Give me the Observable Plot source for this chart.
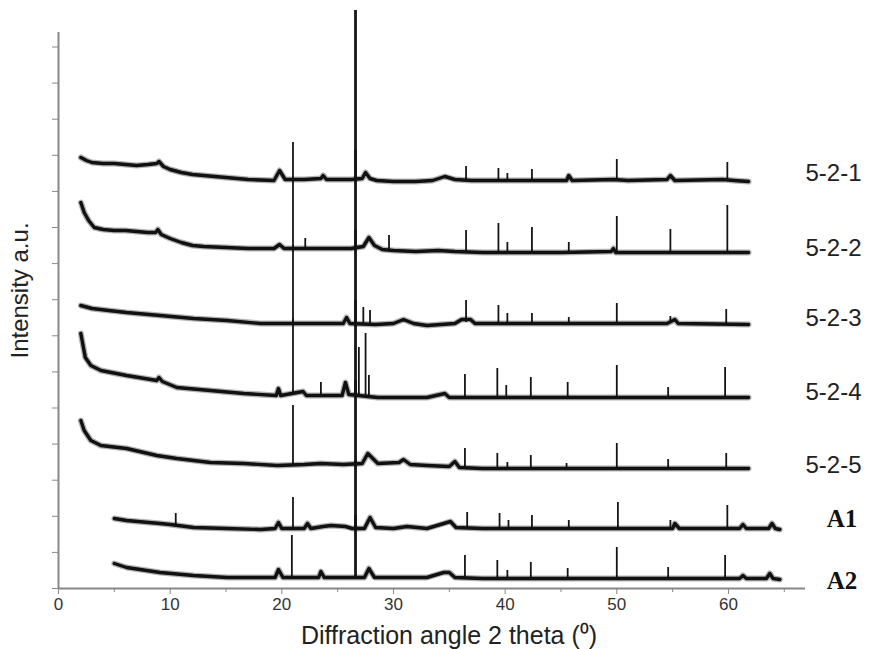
<!DOCTYPE html>
<html><head><meta charset="utf-8">
<script src="https://cdn.jsdelivr.net/npm/d3@7"></script>
<script src="https://cdn.jsdelivr.net/npm/@observablehq/plot@0.6"></script>
<style>body{margin:0;background:#fff}</style>
</head><body><div id="chart"></div>
<script>
// X-ray diffraction patterns (intensity in arbitrary units, stacked)
const xMajorTicks = [0, 10, 20, 30, 40, 50, 60];
const xMinorTicks = [5, 15, 25, 35, 45, 55, 65];
const yTickStep = 36.1;
const yTicks = d3.range(0, 556, yTickStep);

const seriesNames = ["5-2-1", "5-2-2", "5-2-3", "5-2-4", "5-2-5", "A1", "A2"];

// baseline traces [2theta, intensity]
const base521 = [[2.0,431],[2.5,428],[3,426],[4,425],[5,425],[6,424],[7,423],[8,424],[8.8,425],[9.0,427],[9.4,422],[10,419],[11,416],[12,414],[13,413],[15,411],[17,409],[19.3,408],[19.8,418],[20.3,409],[22,409],[23.5,410],[23.7,413],[24,409],[26.2,409],[27.2,410],[27.5,416],[27.9,410],[28.5,408],[30,407],[32,407],[33.5,408],[34.6,412],[35.5,409],[37,408],[41,408],[44,408],[45.5,408],[45.7,413],[46,408],[49.7,409],[51,408],[54.5,409],[54.8,413],[55.2,408],[59.5,409],[60.5,408],[61.8,407]];
const base522 = [[2.0,386],[2.3,376],[2.7,368],[3.2,361],[4,359],[5,358],[6,358],[7,357],[8,356],[8.7,356],[8.9,359],[9.2,354],[10,350],[11,346],[12,343],[13,342],[15,341],[17,340],[19.3,340],[19.8,344],[20.2,340],[23.5,340],[26.2,340],[27.3,342],[27.8,351],[28.3,343],[29,339],[30,338],[32,337],[34,338],[35.5,337],[38,336],[45,336],[49.5,337],[49.7,340],[49.9,336],[55,336],[61.8,336]];
const base523 = [[2.0,283],[3,280],[4.5,278],[6.1,276],[9.1,273],[12.1,270],[15.1,268],[18.1,265],[20,265],[22,265],[25.5,265],[25.8,271],[26.1,265],[28.4,264],[30,265],[30.9,269],[31.8,265],[33,263],[35.5,265],[36.1,269],[36.9,269],[37.3,265],[38,265],[45,265],[54.5,265],[55.2,269],[55.5,265],[61.8,264]];
const base524 = [[2.0,255],[2.4,231],[2.9,223],[3.8,218],[6.1,213],[8.8,208],[9.0,211],[9.3,207],[10.6,201],[13.6,198],[16.6,195],[19.5,193],[19.7,200],[19.9,193],[21.9,197],[22.2,193],[25.4,193],[25.7,206],[26.0,194],[28.6,191],[33,191],[34.6,195],[35,191],[40,191],[61.8,191]];
const base525 = [[2.0,168],[2.3,158],[2.9,148],[3.8,143],[6.1,140],[8.8,133],[10.6,130],[13.6,126],[16.6,125],[19.6,123],[22,124],[23.5,125],[25.5,124],[27.2,125],[27.7,135],[28.6,125],[30.5,126],[30.9,129],[31.5,124],[33,123],[35,122],[35.5,127],[35.9,121],[38,120],[45,120],[61.8,120]];
const baseA1 = [[5.0,70],[6.1,68],[9.1,65],[10,64],[12.1,61],[15.1,60],[18.1,59],[19.4,60],[19.7,66],[20.0,60],[22,60],[22.3,65],[22.6,60],[23.7,62],[24.4,63],[25.7,62],[26.3,60],[27.4,60],[27.9,71],[28.4,61],[30,60],[31.2,62],[33,60],[34.5,65],[35.1,67],[35.6,61],[38,60],[55,60],[55.2,65],[55.6,60],[61,60],[61.3,64],[61.6,60],[63.6,60],[63.9,65],[64.2,60],[64.6,59]];
const baseA2 = [[5.0,25],[6.1,21],[9.1,16],[12.1,13],[15.1,11],[18.1,11],[19.4,11],[19.7,19],[20.1,11],[23.3,11],[23.5,17],[23.8,11],[26.2,11],[27.4,11],[27.8,20],[28.3,11],[30,11],[33,11],[34.5,16],[35.0,16],[35.5,11],[38,10],[61,10],[61.3,13],[61.6,10],[63.4,10],[63.7,15],[64.0,10],[64.6,9]];

// sharp reflections [2theta, foot intensity, top intensity]
const peaks521 = [[21.0,408,446],[26.6,409,578],[36.5,408,422],[39.4,408,420],[40.2,408,415],[42.4,408,419],[50.0,408,429],[59.9,408,426]];
const peaks522 = [[21.0,340,410],[22.1,340,350],[26.6,340,438],[29.6,339,353],[36.5,336,358],[39.4,336,365],[40.2,336,346],[42.4,336,361],[45.7,336,346],[50.0,336,372],[54.8,336,359],[59.9,336,383]];
const peaks523 = [[21.0,265,343],[26.6,265,358],[27.3,265,281],[27.9,265,278],[36.5,266,288],[39.4,265,283],[40.2,265,275],[42.4,265,275],[45.7,265,271],[50.0,265,285],[54.8,265,272],[59.8,265,279]];
const peaks524 = [[21.0,193,270],[23.5,193,206],[26.6,193,288],[26.9,193,241],[27.5,193,255],[27.8,193,213],[36.4,191,214],[39.3,191,220],[40.1,191,203],[42.3,191,211],[45.6,191,206],[50.0,191,223],[54.6,191,201],[59.7,191,221]];
const peaks525 = [[21.0,123,183],[26.6,124,208],[36.4,121,140],[39.3,120,135],[40.2,120,126],[42.3,120,133],[45.5,120,125],[50.0,120,145],[54.6,120,129],[59.8,120,135]];
const peaksA1 = [[10.5,64,75],[21.0,60,91],[26.6,60,128],[36.6,60,76],[39.5,60,75],[40.3,60,68],[42.4,60,73],[45.7,60,68],[50.1,60,86],[54.8,60,68],[59.9,60,83]];
const peaksA2 = [[20.9,11,53],[26.6,11,73],[36.4,10,33],[39.3,10,28],[40.2,10,18],[42.3,10,26],[45.6,10,20],[50.0,10,41],[54.6,10,21],[59.7,10,33]];

// label positions
const labelX = [66.9, 66.9, 66.9, 66.9, 66.9, 68.8, 68.8];
const labelY = [415, 340, 270, 196, 123, 70, 8];

const bases = [base521, base522, base523, base524, base525, baseA1, baseA2];
const peaks = [peaks521, peaks522, peaks523, peaks524, peaks525, peaksA1, peaksA2];

const lineData = bases.flatMap((b, i) => b.map(([x, y]) => ({name: seriesNames[i], x, y})));
const peakData = peaks.flatMap((p, i) => p.map(([x, y1, y2]) => ({name: seriesNames[i], x, y1, y2})));
const labels = seriesNames.map((name, i) => ({name, x: labelX[i], y: labelY[i]}));

const sans = "'Liberation Sans', Arial, sans-serif";
const serif = "'Liberation Serif', 'Times New Roman', serif";

const chart = Plot.plot({
  width: 871, height: 649,
  marginLeft: 58, marginRight: 66, marginTop: 32, marginBottom: 61,
  style: {fontFamily: sans, background: "#fff"},
  x: {domain: [0, 66.9]},
  y: {domain: [0, 556]},
  marks: [
    Plot.ruleX(peakData, {x: "x", y1: "y1", y2: "y2", stroke: "#151515", strokeWidth: d => d.x === 26.6 ? 2.8 : 1.8}),
    Plot.line(lineData, {x: "x", y: "y", z: "name", stroke: "#000", strokeOpacity: 0.3, strokeWidth: 6, strokeLinejoin: "round", strokeLinecap: "round"}),
    Plot.line(lineData, {x: "x", y: "y", z: "name", stroke: "#111", strokeWidth: 3.4, strokeLinejoin: "round", strokeLinecap: "round"}),
    Plot.ruleY([0], {stroke: "#888", strokeWidth: 2}),
    Plot.ruleX([0], {stroke: "#888", strokeWidth: 2}),
    Plot.axisX(xMajorTicks, {tickSize: 6, tickPadding: 3, fontSize: 17, stroke: "#888", fill: "#333", label: null}),
    Plot.axisX(xMinorTicks, {tickSize: 4, tickFormat: () => "", stroke: "#888", label: null}),
    Plot.axisY(yTicks, {tickSize: 6, tickFormat: () => "", stroke: "#888", label: null}),
    Plot.text(["Diffraction angle 2 theta (\u2070)"], {frameAnchor: "bottom", textAnchor: "middle", lineAnchor: "middle", dx: 17, dy: 47, fontSize: 25, letterSpacing: 0.8, fill: "#222"}),
    Plot.text(["Intensity a.u."], {frameAnchor: "left", textAnchor: "middle", dx: -38, dy: -20, rotate: -90, fontSize: 24, letterSpacing: 1.8, fill: "#222"}),
    Plot.text(labels.slice(0, 5), {x: "x", y: "y", text: "name", textAnchor: "start", fontSize: 24, fill: "#222"}),
    Plot.text(labels.slice(5), {x: "x", y: "y", text: "name", textAnchor: "start", fontSize: 25, fontWeight: "bold", fontFamily: serif, fill: "#111"})
  ]
});
document.getElementById("chart").appendChild(chart);
</script>
</body></html>
